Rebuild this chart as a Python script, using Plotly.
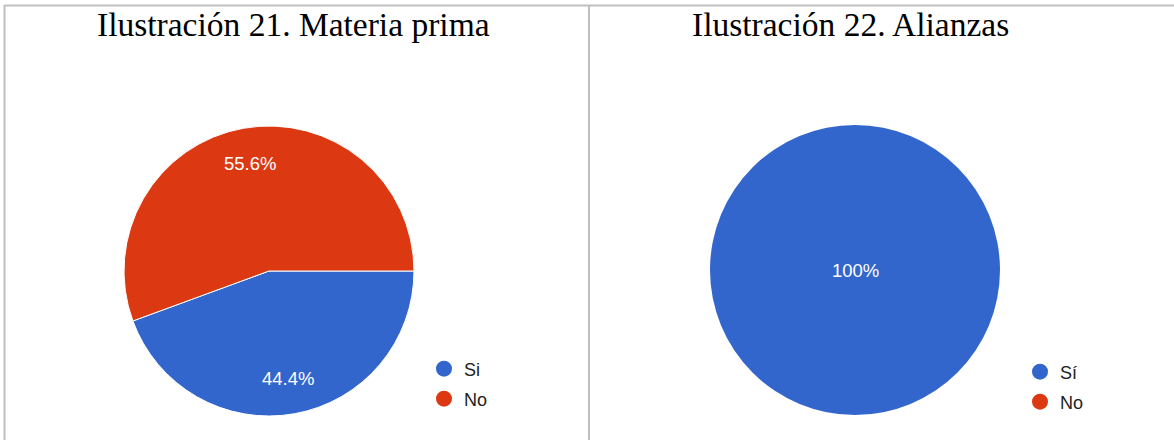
import math
import plotly.graph_objects as go

# Data
left_title = "Ilustración 21. Materia prima"
left_labels = ["Si", "No"]
left_values = [44.4, 55.6]

right_title = "Ilustración 22. Alianzas"
right_labels = ["Sí", "No"]
right_values = [100, 0]

colors = ["#3366CC", "#DC3912"]

W, H = 1174, 440


def px_x(p):
    return p / W


def px_y(p):
    return 1 - p / H


# pie placement (pixels): center x, center y, radius
LEFT_PIE = (269, 271, 145)
RIGHT_PIE = (855, 270, 145)

fig = go.Figure()


def add_pie(labels, values, geom, line_width):
    cx, cy, r = geom
    fig.add_trace(go.Pie(
        labels=labels, values=values,
        sort=False, direction="clockwise", rotation=90,
        marker=dict(colors=colors, line=dict(color="white", width=line_width)),
        textinfo="none",
        showlegend=False,
        hoverinfo="label+percent",
        domain=dict(x=[px_x(cx - r), px_x(cx + r)], y=[px_y(cy + r), px_y(cy - r)]),
    ))


def add_slice_labels(values, geom, decimals):
    cx, cy, r = geom
    total = sum(values)
    cum = 0.0
    for v in values:
        frac = v / total
        if frac <= 0:
            cum += v
            continue
        if frac >= 0.999:
            lx, ly = cx, cy
        else:
            mid = 2 * math.pi * (cum + v / 2) / total  # clockwise from 3 o'clock
            lx = cx + 0.75 * r * math.cos(mid)
            ly = cy + 0.75 * r * math.sin(mid)
        cum += v
        txt = f"{frac * 100:.{decimals}f}%"
        fig.add_annotation(
            text=txt, x=px_x(lx), y=px_y(ly), xref="paper", yref="paper",
            showarrow=False, xanchor="center", yanchor="middle",
            font=dict(family="Liberation Sans, Arial", size=18.5, color="white"),
        )


add_pie(left_labels, left_values, LEFT_PIE, 1)
add_pie(right_labels, right_values, RIGHT_PIE, 0)
add_slice_labels(left_values, LEFT_PIE, 1)
add_slice_labels(right_values, RIGHT_PIE, 0)

# Legend entries (circle markers), one legend per entry for exact placement
legend_specs = [
    ("legend", left_labels[0], colors[0], 424, 369),
    ("legend2", left_labels[1], colors[1], 424, 399),
    ("legend3", right_labels[0], colors[0], 1020, 372),
    ("legend4", right_labels[1], colors[1], 1020, 402),
]
legend_layout = {}
for lg, name, col, lx, ly in legend_specs:
    fig.add_trace(go.Scatter(
        x=[None], y=[None], mode="markers", name=name,
        marker=dict(symbol="circle", size=16, color=col),
        legend=lg, showlegend=True, hoverinfo="skip",
    ))
    legend_layout[lg] = dict(
        x=px_x(lx), y=px_y(ly), xanchor="left", yanchor="middle",
        bgcolor="rgba(0,0,0,0)", borderwidth=0,
        font=dict(family="Liberation Sans, Arial", size=18, color="#222222"),
    )

title_font = dict(family="Liberation Serif, Times New Roman", size=33.5, color="black")
fig.add_annotation(text=left_title, x=px_x(294), y=px_y(25), xref="paper", yref="paper",
                   showarrow=False, xanchor="center", yanchor="middle", font=title_font)
fig.add_annotation(text=right_title, x=px_x(850), y=px_y(25), xref="paper", yref="paper",
                   showarrow=False, xanchor="center", yanchor="middle", font=title_font)

fig.update_layout(
    width=W, height=H,
    margin=dict(l=0, r=0, t=0, b=0),
    paper_bgcolor="white", plot_bgcolor="white",
    xaxis=dict(visible=False), yaxis=dict(visible=False),
    shapes=[
        dict(type="line", xref="paper", yref="paper", x0=px_x(4), x1=1, y0=px_y(5.5), y1=px_y(5.5),
             line=dict(color="#BFBFBF", width=2)),
        dict(type="line", xref="paper", yref="paper", x0=px_x(4.5), x1=px_x(4.5), y0=0, y1=px_y(5),
             line=dict(color="#BFBFBF", width=2)),
        dict(type="line", xref="paper", yref="paper", x0=px_x(589), x1=px_x(589), y0=0, y1=px_y(5),
             line=dict(color="#BFBFBF", width=2)),
    ],
    **legend_layout,
)

fig.write_html(
    "out.html",
    config={"displayModeBar": False},
    post_script="document.body.style.margin='0';document.body.style.overflow='hidden';",
)
